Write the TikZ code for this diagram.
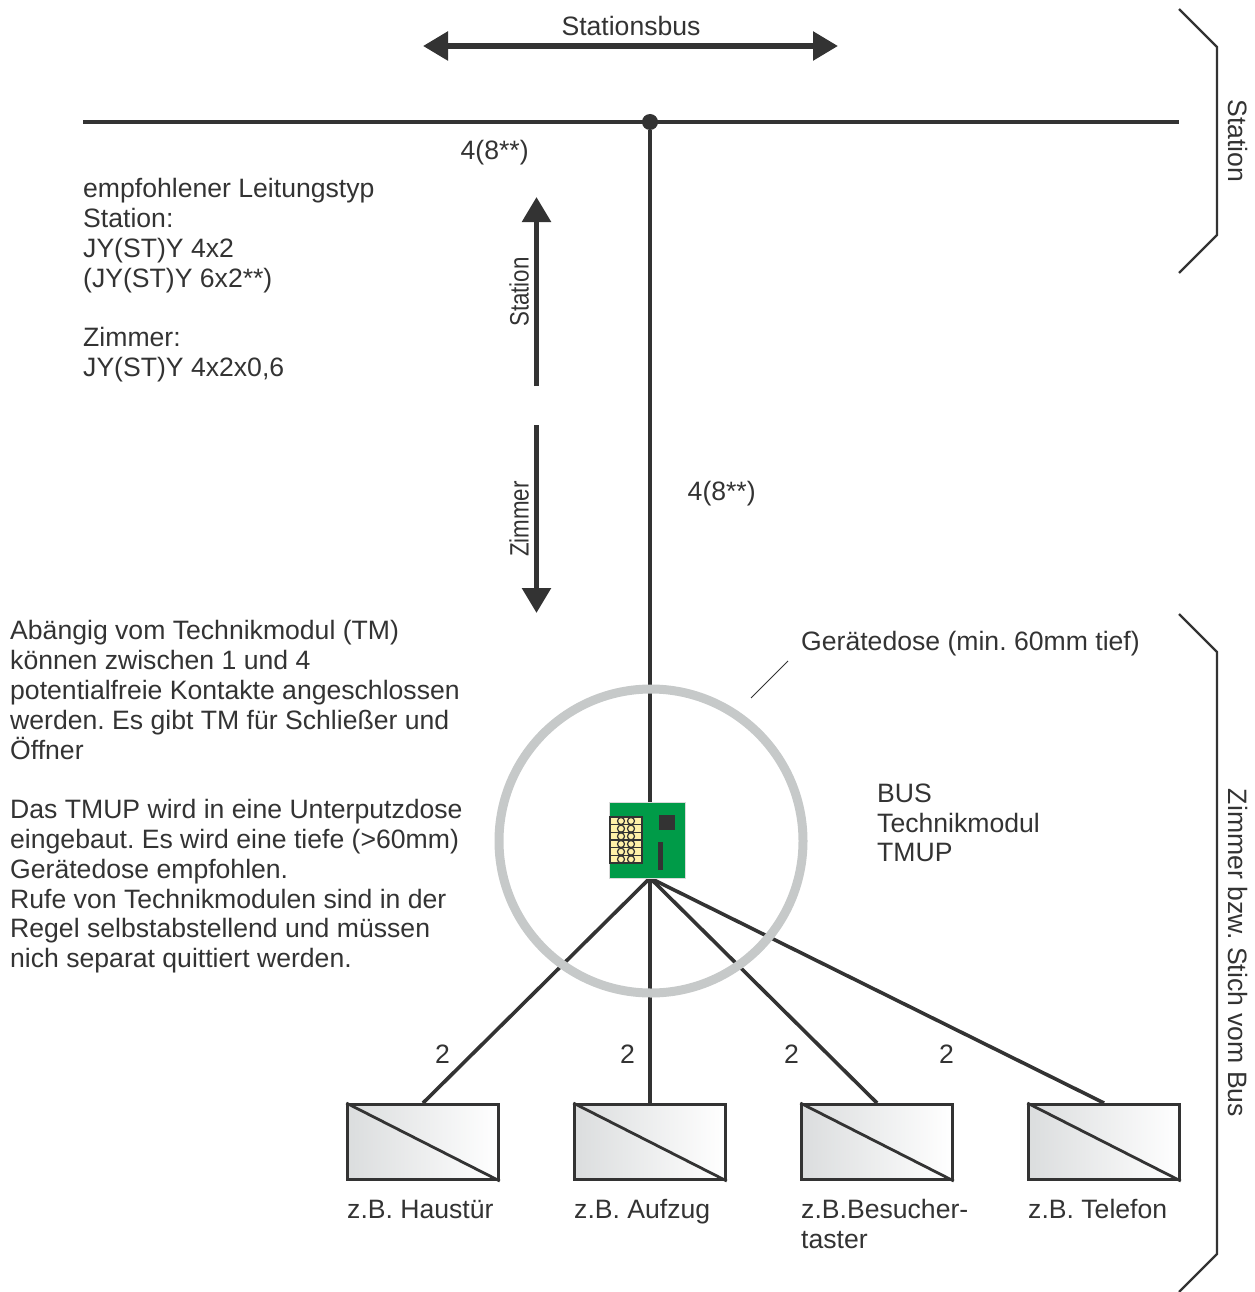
\documentclass[tikz,border=0pt]{standalone}
\usepackage{fontspec}
\setmainfont{Liberation Sans}
\usetikzlibrary{arrows.meta,calc}
\definecolor{ink}{HTML}{333333}
\definecolor{ringc}{HTML}{C6C9C9}
\definecolor{pcb}{HTML}{009B48}
\definecolor{pad}{HTML}{FFF1A8}
\definecolor{boxl}{HTML}{DBDDDE}
\tikzset{
  x=1pt,y=-1pt,
  txt/.style={inner sep=0pt,anchor=base west,text=ink,font=\fontsize{26.6}{29.8}\selectfont\frenchspacing,align=left},
  txtc/.style={inner sep=0pt,anchor=center,text=ink,font=\fontsize{26.6}{29.8}\selectfont\frenchspacing},
  wire/.style={draw=ink,line width=3.6pt},
  bigarrow/.style={draw=ink,line width=5.5pt,-{Triangle[length=25pt,width=28pt,fill=ink]}},
  bracketline/.style={draw=ink,line width=2.2pt},
  devbox/.style={draw=ink,line width=3pt,minimum width=150.5pt,minimum height=75pt,inner sep=0pt,left color=boxl,right color=white,shading angle=90},
  padrow/.style={draw=ink,line width=1.2pt,fill=pad},
  padhole/.style={draw=ink,line width=1.2pt,fill=pad,circle,inner sep=0pt,minimum size=7pt}
}
\begin{document}
\begin{tikzpicture}
\useasboundingbox (0,0) rectangle (1254,1292);
% coordinates
\coordinate (busL) at (83,122);
\coordinate (busR) at (1179,122);
\node[circle,fill=ink,minimum size=16pt,inner sep=0pt] (junction) at (650,122) {};
\node[draw=none,minimum width=76pt,minimum height=76pt,inner sep=0pt] (tm) at (647,840) {};
\coordinate (tmTop) at (650,802);
\coordinate (tmBot) at (650,878);
\node[devbox] (b1) at (423,1142) {};
\node[devbox] (b2) at (650,1142) {};
\node[devbox] (b3) at (877,1142) {};
\node[devbox] (b4) at (1104,1142) {};
% wires
\draw[wire] (busL) -- (busR);
\draw[wire] (junction) -- (tmTop);
\draw[wire] (tmBot) -- (b1.north);
\draw[wire] (tmBot) -- (b2.north);
\draw[wire] (tmBot) -- (b3.north);
\draw[wire] (tmBot) -- (b4.north);
\draw[line width=9pt,draw=ringc] (651,841) circle[radius=152];
\foreach \b in {b1,b2,b3,b4}{\draw[draw=ink,line width=2.8pt] (\b.north west) -- (\b.south east);}
% technology module
\fill[pcb,draw=black!15,line width=.8pt] (609,802) rectangle (685,878);
\foreach \i in {0,...,5}{
  \draw[padrow] ($(610,817)+(0,7.67*\i)$) rectangle ($(642,824.67)+(0,7.67*\i)$);
}
\foreach \i in {0,...,5}{
  \node[padhole] (pa\i) at ($(621,821)+(0,7.67*\i)$) {};
  \node[padhole] (pb\i) at ($(631,821)+(0,7.67*\i)$) {};
}
\fill[ink] (659,815) rectangle (675,830);
\fill[ink] (658,842) rectangle (663,870);
% arrows
\coordinate (sbL) at (423,46);
\coordinate (sbR) at (838,46);
\draw[bigarrow,{Triangle[length=25pt,width=28pt,fill=ink]}-{Triangle[length=25pt,width=28pt,fill=ink]}] (sbL) -- (sbR);
\coordinate (stA) at (536.5,386);
\coordinate (stB) at (536.5,197);
\draw[bigarrow] (stA) -- (stB);
\coordinate (ziA) at (536.5,425);
\coordinate (ziB) at (536.5,613);
\draw[bigarrow] (ziA) -- (ziB);
% brackets
\draw[bracketline] (1179,9) -- (1217,47) -- (1217,235) -- (1179,273);
\draw[bracketline] (1179,614) -- (1217,652) -- (1217,1254) -- (1179,1292);
% leader
\coordinate (leadA) at (751,698);
\coordinate (leadB) at (788,661);
\draw[draw=ink,line width=1pt] (leadA) -- (leadB);
% texts
\node[txtc] (tsb) at (631,25.5) {Stationsbus};
\node[txt] (t48a) at (460.5,160) {4(8**)};
\node[txt] (t48b) at (687.5,500) {4(8**)};
\node[txt,anchor=north west] (tleft) at (83,178.5) {empfohlener Leitungstyp\\Station:\\JY(ST)Y 4x2\\(JY(ST)Y 6x2**)\\[29.8pt]Zimmer:\\JY(ST)Y 4x2x0,6};
\node[txt,anchor=north west] (tabh) at (10,620.5) {Abängig vom Technikmodul (TM)\\können zwischen 1 und 4\\potentialfreie Kontakte angeschlossen\\werden. Es gibt TM für Schließer und\\Öffner\\[29.8pt]Das TMUP wird in eine Unterputzdose\\eingebaut. Es wird eine tiefe (>60mm)\\Gerätedose empfohlen.\\Rufe von Technikmodulen sind in der\\Regel selbstabstellend und müssen\\nich separat quittiert werden.};
\node[txt] (tgd) at (801,650) {Gerätedose (min. 60mm tief)};
\node[txt,anchor=north west] (tbus) at (877,783.5) {BUS\\Technikmodul\\TMUP};
\node[txtc,rotate=-90] (tst) at (1237.5,141) {Station};
\node[txtc,rotate=-90] (tzi) at (1237.5,953) {Zimmer bzw. Stich vom Bus};
\node[txtc,rotate=90,xscale=.84] (tst2) at (519,292) {Station};
\node[txtc,rotate=90,xscale=.84] (tzi2) at (519,519) {Zimmer};
\node[txt] (n1) at (435,1063) {2};
\node[txt] (n2) at (620,1063) {2};
\node[txt] (n3) at (784,1063) {2};
\node[txt] (n4) at (939,1063) {2};
\node[txt] (l1) at (347,1218) {z.B. Haustür};
\node[txt] (l2) at (574,1218) {z.B. Aufzug};
\node[txt,anchor=north west] (l3) at (801,1199) {z.B.Besucher-\\taster};
\node[txt] (l4) at (1028,1218) {z.B. Telefon};
\end{tikzpicture}
\end{document}
